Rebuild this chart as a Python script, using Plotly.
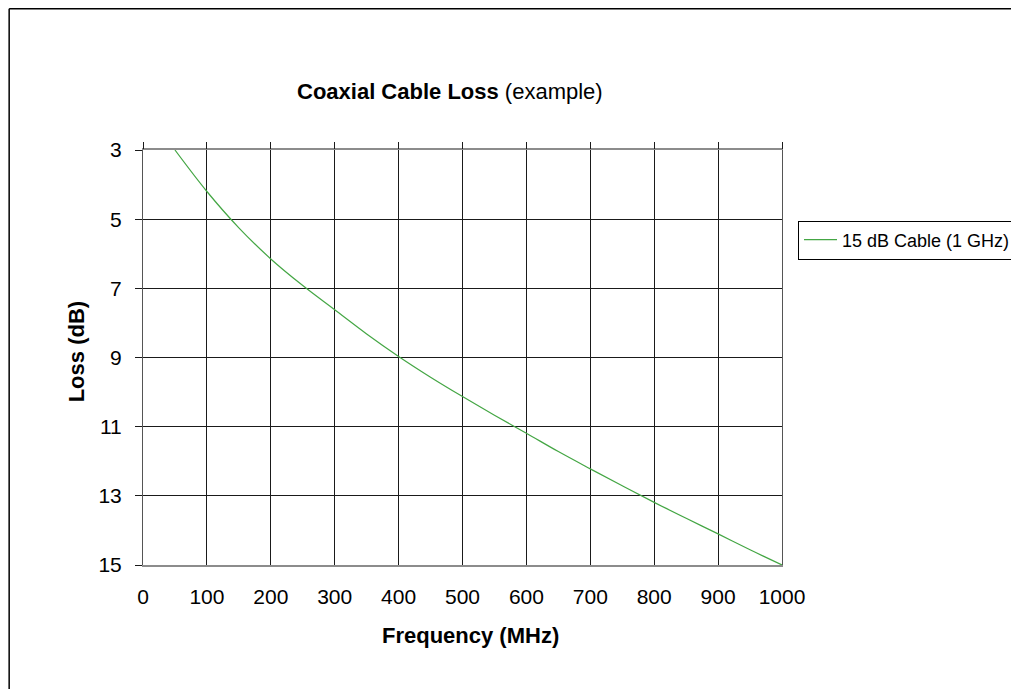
import plotly.graph_objects as go

freq_mhz = [50, 100, 150, 200, 250, 300, 350, 400, 450, 500, 550, 600, 650, 700, 750, 800, 850, 900, 950, 1000]
loss_db = [3.0, 4.2, 5.25, 6.15, 6.92, 7.62, 8.32, 8.97, 9.57, 10.13, 10.67, 11.19, 11.72, 12.22, 12.71, 13.19, 13.65, 14.1, 14.56, 15.0]
series_name = "15 dB Cable (1 GHz)"
x_ticks = [0, 100, 200, 300, 400, 500, 600, 700, 800, 900, 1000]
y_ticks = [3, 5, 7, 9, 11, 13, 15]

# page has an 8px body margin, so the figure is offset by 8px
OFF = 8
W, H = 1019 - OFF, 689 - OFF
L, R, T, B = 142.7 - OFF, 782.0 - OFF, 150.0 - OFF, 565.0 - OFF

def px(x):
    return (x - OFF - L) / (R - L)

def py(y):
    return (B - (y - OFF)) / (B - T)

FONT = "Liberation Sans, Arial, sans-serif"

fig = go.Figure()
fig.add_trace(go.Scatter(
    x=freq_mhz, y=loss_db, mode="lines", name=series_name,
    line=dict(color="#44a644", width=1.2, shape="spline"),
))
# invisible trace for top tick axis
fig.add_trace(go.Scatter(x=[x_ticks[0], x_ticks[-1]], y=[y_ticks[0], y_ticks[0]], xaxis="x2",
                         mode="lines", line=dict(width=0), showlegend=False, hoverinfo="skip"))

fig.update_layout(
    width=W, height=H,
    margin=dict(l=L, r=W - R, t=T, b=H - B, autoexpand=False),
    paper_bgcolor="white", plot_bgcolor="white",
    font=dict(family=FONT, size=21, color="black"),
    showlegend=True,
    legend=dict(x=px(798), y=py(240), xanchor="left", yanchor="middle",
                bordercolor="black", borderwidth=1, bgcolor="white",
                font=dict(size=18, family=FONT), itemwidth=33,
                tracegroupgap=0),
    xaxis=dict(range=[0, 1000], tickvals=x_ticks, ticktext=[str(v) for v in x_ticks],
               showgrid=True, gridcolor="#1a1a1a", gridwidth=1,
               showline=True, linecolor="#8c8c8c", linewidth=2, mirror=True,
               ticks="", ticklabelstandoff=12, zeroline=False,
               tickfont=dict(size=21, family=FONT)),
    xaxis2=dict(range=[0, 1000], tickvals=x_ticks, overlaying="x", side="top",
                showticklabels=False, ticks="outside", ticklen=7, tickcolor="#1a1a1a",
                showgrid=False, zeroline=False, showline=False),
    yaxis=dict(range=[15, 3], tickvals=y_ticks, ticktext=[str(v) for v in y_ticks],
               showgrid=True, gridcolor="#1a1a1a", gridwidth=1,
               showline=True, linecolor="#555555", linewidth=1, mirror=True,
               ticks="outside", ticklen=7, tickcolor="#1a1a1a",
               ticklabelstandoff=9, zeroline=False,
               tickfont=dict(size=21, family=FONT)),
    shapes=[
        dict(type="line", xref="paper", yref="paper",
             x0=px(8.8), x1=px(1030), y0=py(8.8), y1=py(8.8),
             line=dict(color="black", width=1.5), layer="below"),
        dict(type="line", xref="paper", yref="paper",
             x0=px(8.8), x1=px(8.8), y0=py(8.8), y1=py(700),
             line=dict(color="black", width=1.5), layer="below"),
    ],
    annotations=[
        dict(text="<b>Coaxial Cable Loss</b> (example)", xref="paper", yref="paper",
             x=px(450), y=py(91), xanchor="center", yanchor="middle", showarrow=False,
             font=dict(size=22, family=FONT)),
        dict(text="<b>Frequency (MHz)</b>", xref="paper", yref="paper",
             x=px(470), y=py(635), xanchor="center", yanchor="middle", showarrow=False,
             font=dict(size=22, family=FONT)),
        dict(text="<b>Loss (dB)</b>", xref="paper", yref="paper", textangle=-90,
             x=px(76), y=py(352), xanchor="center", yanchor="middle", showarrow=False,
             font=dict(size=22, family=FONT)),
    ],
)

fig.write_html("out.html")
